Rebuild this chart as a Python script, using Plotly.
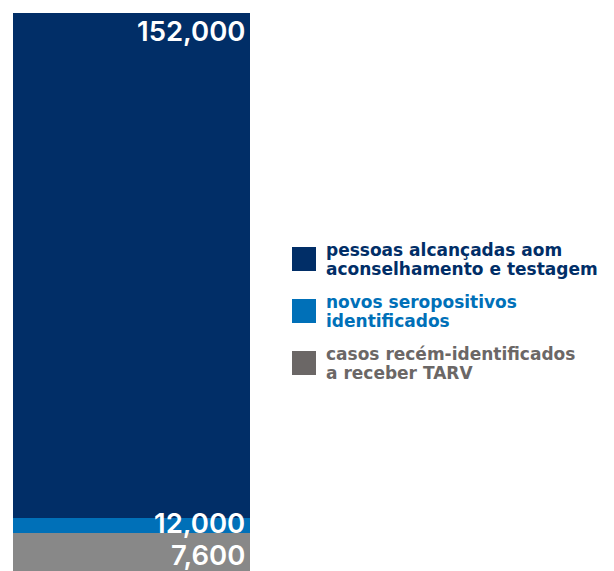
import plotly.graph_objects as go

# Data
categories = ["total"]
label_lines = [["pessoas alcançadas aom", "aconselhamento e testagem"],
               ["novos seropositivos", "identificados"],
               ["casos recém-identificados", "a receber TARV"]]
values = [152000, 12000, 7600]
value_text = ["152,000", "12,000", "7,600"]

bar_colors = ["#012e67", "#0070b8", "#888888"]
legend_colors = ["#012e67", "#0070b8", "#6b6766"]

W, H = 614, 571
BASE = -2840
TOP = 155607

fig = go.Figure()
for v, c, lines in zip(values, bar_colors, label_lines):
    # bar drawn from the (off-scale) baseline up to the value
    fig.add_trace(go.Bar(x=categories, y=[v - BASE], base=BASE,
                         marker=dict(color=c, line=dict(width=0)),
                         name=" ".join(lines), showlegend=False, hoverinfo="skip"))

# value labels
yshifts = [1, 13.5, -3]
for v, t, ys in zip(values, value_text, yshifts):
    fig.add_annotation(x=1, xref="x domain", xanchor="right", xshift=-3,
                       y=v, yref="y", yanchor="top", yshift=ys,
                       text=t, showarrow=False,
                       font=dict(family="Inter", size=27.5, color="white", weight=600))

# legend (manual)
sq_tops = [247, 299, 351]
for top, lc, lines in zip(sq_tops, legend_colors, label_lines):
    fig.add_shape(type="rect", xref="paper", yref="paper",
                  x0=292 / W, x1=316 / W, y0=1 - (top + 24) / H, y1=1 - top / H,
                  fillcolor=lc, line=dict(width=0))
    for i, line in enumerate(lines):
        fig.add_annotation(x=325 / W, xref="paper", xanchor="left",
                           y=1 - (top + 3 + 18.5 * i) / H, yref="paper", yanchor="middle",
                           text=line, showarrow=False, align="left", borderpad=0,
                           font=dict(family="DejaVu Sans", size=17, color=lc, weight=700))

fig.update_layout(
    width=W, height=H,
    margin=dict(l=0, r=0, t=0, b=0),
    paper_bgcolor="white", plot_bgcolor="white",
    barmode="overlay", bargap=0,
    xaxis=dict(domain=[13 / W, 250 / W], visible=False),
    yaxis=dict(range=[BASE, TOP], visible=False),
)

fig.write_html("out.html")
